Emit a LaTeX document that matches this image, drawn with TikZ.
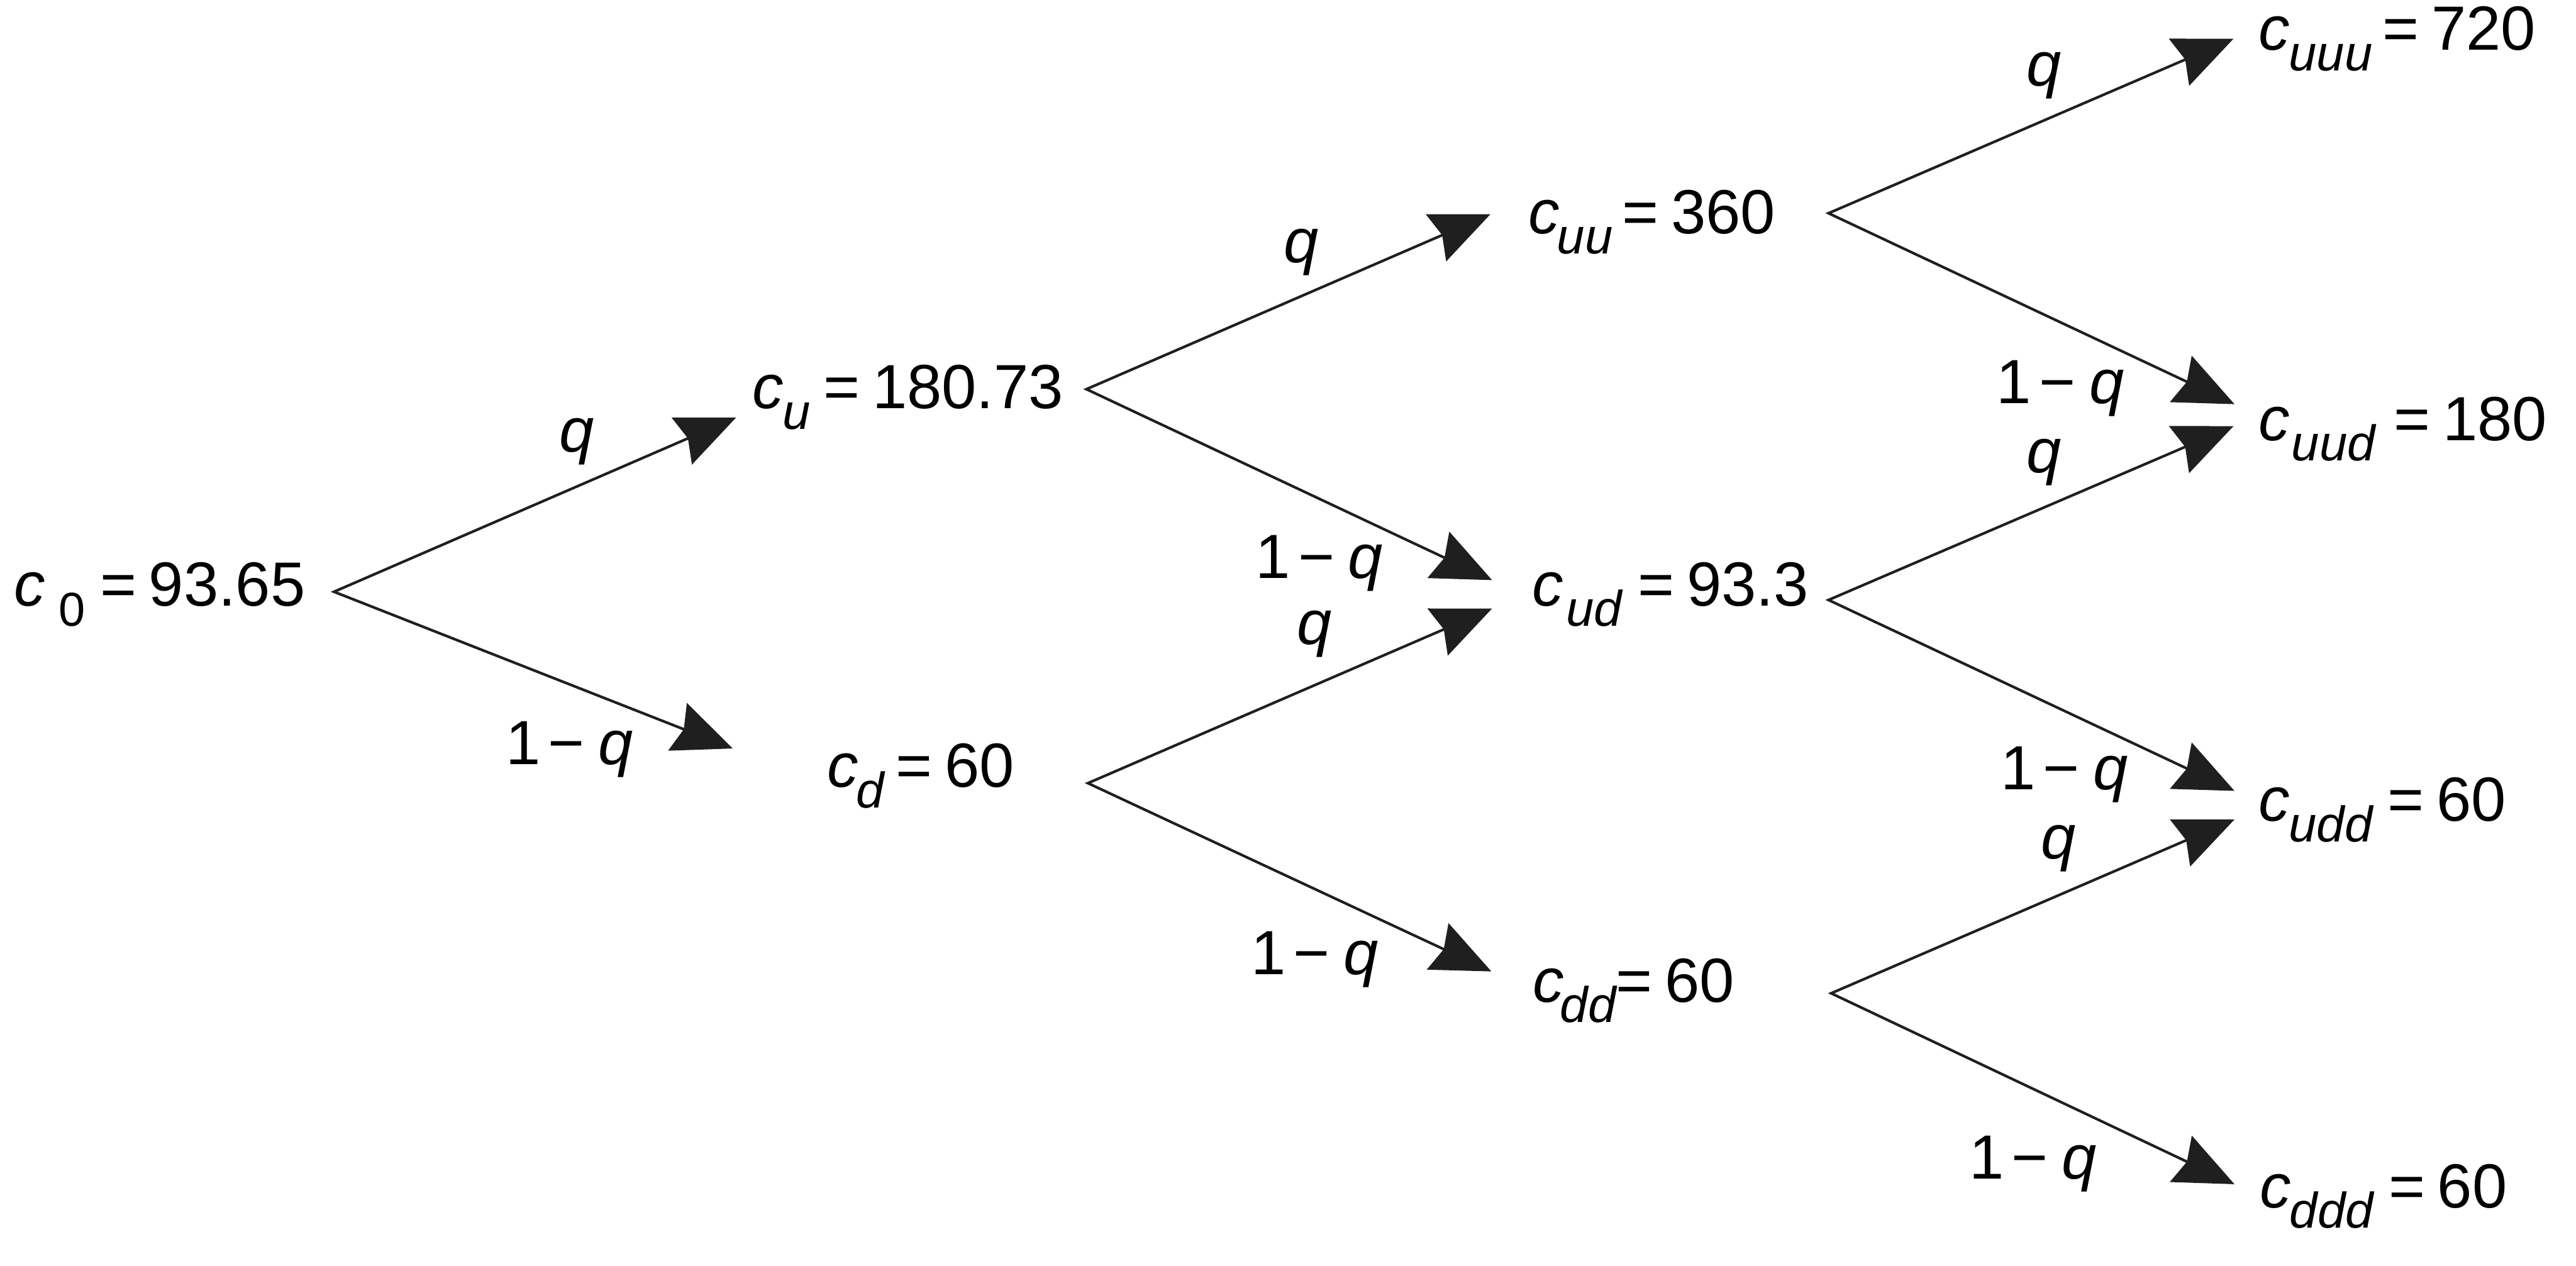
\documentclass[tikz,border=0pt]{standalone}
\usepackage{fontspec}
\setmainfont{Liberation Sans}
\usetikzlibrary{arrows.meta}
\definecolor{ink}{RGB}{31,31,31}
\newcommand\sbx[1]{\raisebox{-12.5pt}{\fontsize{30.5pt}{30pt}\selectfont\itshape #1}}
\newcommand\cval[4]{{\itshape c}\kern#1pt\sbx{#2}\kern#3pt=\kern7.6pt#4}
\newcommand\omq{1\kern4.6pt−\kern8.4pt{\itshape q}}
\begin{document}
\begin{tikzpicture}[x=1pt,y=-1pt,
  val/.style={anchor=base west,inner sep=0pt,outer sep=0pt,font=\fontsize{38pt}{40pt}\selectfont},
  prob/.style={anchor=base,inner sep=0pt,outer sep=0pt,font=\fontsize{38pt}{40pt}\selectfont},
  probw/.style={prob,anchor=base west},
  tip/.tip={Stealth[length=36pt,width=31pt,inset=4pt]},
  branch/.style={draw=ink,fill=none,line width=1.6pt,line join=miter,tip-tip}]
\useasboundingbox (0,0) rectangle (1568,770.4);

% value nodes
\node[val] (c0) at (8.7,368.7) {{\itshape c}\kern8pt\raisebox{-12.5pt}{\fontsize{29pt}{30pt}\selectfont 0}\kern9.1pt=\kern7.6pt93.65};
\node[val] (cu) at (458,248.6) {\cval{-0.5}{u}{7.8}{180.73}};
\node[val] (cd) at (503.5,479.1) {\cval{-1.2}{d}{7}{60}};
\node[val] (cuu) at (930.6,142.1) {\cval{-1.8}{uu}{5.8}{360}};
\node[val] (cud) at (932.9,368.7) {\cval{1.4}{ud}{9.9}{93.3}};
\node[val] (cdd) at (933.1,609.9) {\cval{-2.4}{dd}{0}{60}};
\node[val] (cuuu) at (1374.9,30.4) {\cval{-0.7}{uuu}{6.3}{720}};
\node[val] (cuud) at (1374.9,268.0) {\cval{1}{uud}{11.3}{180}};
\node[val] (cudd) at (1374.9,499.8) {\cval{-0.7}{udd}{9.3}{60}};
\node[val] (cddd) at (1375.5,735) {\cval{-0.7}{ddd}{9.3}{60}};

% branching points and arrow tips
\coordinate (c0-o) at (203.3,360.2);
\coordinate (cu-i) at (448.1,254.1);
\coordinate (cd-i) at (446,455.6);
\coordinate (cu-o) at (661.3,236.9);
\coordinate (cd-o) at (662.2,476.7);
\coordinate (cuu-i) at (907.2,130.4);
\coordinate (cud-ia) at (908.2,353.1);
\coordinate (cud-ib) at (908.2,370.4);
\coordinate (cdd-i) at (907.8,591.3);
\coordinate (cuu-o) at (1113,129.8);
\coordinate (cud-o) at (1113,365.2);
\coordinate (cdd-o) at (1114.6,604.6);
\coordinate (cuuu-i) at (1359.5,23.6);
\coordinate (cuud-ia) at (1360.1,246);
\coordinate (cuud-ib) at (1359.5,259.4);
\coordinate (cudd-ia) at (1360.1,481.4);
\coordinate (cudd-ib) at (1360.1,498.8);
\coordinate (cddd-i) at (1360.1,720.8);

% branches
\draw[branch] (cu-i) -- (c0-o) -- (cd-i);
\draw[branch] (cuu-i) -- (cu-o) -- (cud-ia);
\draw[branch] (cud-ib) -- (cd-o) -- (cdd-i);
\draw[branch] (cuuu-i) -- (cuu-o) -- (cuud-ia);
\draw[branch] (cuud-ib) -- (cud-o) -- (cudd-ia);
\draw[branch] (cudd-ib) -- (cdd-o) -- (cddd-i);

% probability labels
\node[prob] (p1) at (351,275) {\itshape q};
\node[probw] (p2) at (307.8,465.4) {\omq};
\node[prob] (p3) at (792,159.8) {\itshape q};
\node[probw] (p4) at (764.4,352.1) {\omq};
\node[prob] (p5) at (800,392) {\itshape q};
\node[probw] (p6) at (761.5,593.1) {\omq};
\node[prob] (p7) at (1244.3,52.3) {\itshape q};
\node[probw] (p8) at (1215.4,245.5) {\omq};
\node[prob] (p9) at (1244,287.7) {\itshape q};
\node[probw] (p10) at (1218,480.7) {\omq};
\node[prob] (p11) at (1253,522.7) {\itshape q};
\node[probw] (p12) at (1198.7,717.5) {\omq};
\end{tikzpicture}
\end{document}
